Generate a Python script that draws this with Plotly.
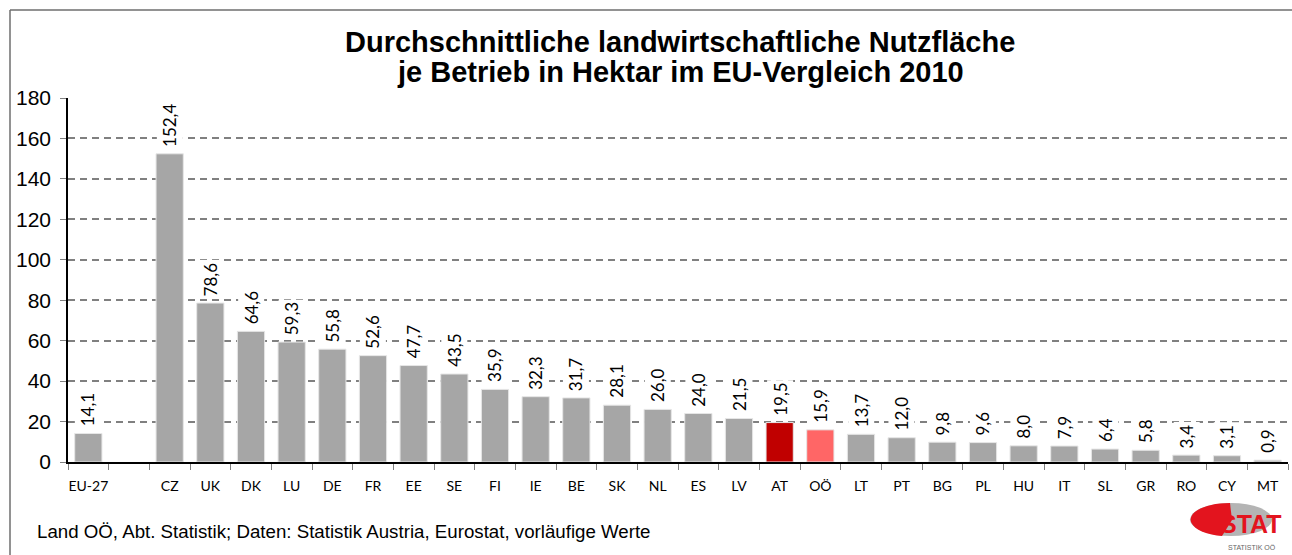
import plotly.graph_objects as go

categories = ["EU-27", " ", "CZ", "UK", "DK", "LU", "DE", "FR", "EE", "SE", "FI", "IE", "BE",
              "SK", "NL", "ES", "LV", "AT", "OÖ", "LT", "PT", "BG", "PL", "HU", "IT", "SL",
              "GR", "RO", "CY", "MT"]
values = [14.1, None, 152.4, 78.6, 64.6, 59.3, 55.8, 52.6, 47.7, 43.5, 35.9, 32.3, 31.7,
          28.1, 26.0, 24.0, 21.5, 19.5, 15.9, 13.7, 12.0, 9.8, 9.6, 8.0, 7.9, 6.4,
          5.8, 3.4, 3.1, 0.9]
highlight = {"AT": "#c00000", "OÖ": "#ff6666"}
y_ticks = [0, 20, 40, 60, 80, 100, 120, 140, 160, 180]

colors = [highlight.get(c, "#a6a6a6") for c in categories]

W, H = 1292, 555
ML, MR, MT, MB = 68, 4, 98, 93
PW, PH = W - ML - MR, H - MT - MB


def px(xp):
    return (xp - ML) / PW


def py(yp):
    return (H - yp - MB) / PH


fig = go.Figure()
fig.add_trace(go.Bar(
    x=categories, y=values,
    marker=dict(color=colors, line=dict(color="#e6e6e6", width=1)),
    hoverinfo="x+y",
))

annotations = []
for c, v in zip(categories, values):
    if v is None:
        continue
    annotations.append(dict(
        x=c, y=v, xref="x", yref="y",
        text=f"{v:.1f}".replace(".", ","),
        textangle=-90, showarrow=False,
        xanchor="center", yanchor="bottom", yshift=4,
        bgcolor="white", borderpad=2,
        font=dict(family="Lato", size=17, color="black"),
    ))

title_font = dict(family="Liberation Sans, Arial", size=29, color="black")
annotations.append(dict(
    xref="paper", yref="paper", x=px(680), y=py(42),
    text="<b>Durchschnittliche landwirtschaftliche Nutzfläche</b>",
    showarrow=False, xanchor="center", yanchor="middle", font=title_font,
))
annotations.append(dict(
    xref="paper", yref="paper", x=px(680), y=py(72),
    text="<b>je Betrieb in Hektar im EU-Vergleich 2010</b>",
    showarrow=False, xanchor="center", yanchor="middle", font=title_font,
))
annotations.append(dict(
    xref="paper", yref="paper", x=px(35), y=py(531),
    text="Land OÖ, Abt. Statistik; Daten: Statistik Austria, Eurostat, vorläufige Werte",
    showarrow=False, xanchor="left", yanchor="middle",
    font=dict(family="Liberation Sans, Arial", size=18.7, color="black"),
))
# logo text
annotations.append(dict(
    xref="paper", yref="paper", x=px(1251), y=py(524),
    text="<b>STAT</b>", showarrow=False, xanchor="center", yanchor="middle",
    font=dict(family="Liberation Sans, Arial", size=25, color="#e3141e"),
))
annotations.append(dict(
    xref="paper", yref="paper", x=px(1252), y=py(547),
    text="STATISTIK OÖ", showarrow=False, xanchor="center", yanchor="middle",
    font=dict(family="Liberation Sans, Arial", size=7, color="#666666"),
))

shapes = [
    # outer frame (top and left)
    dict(type="line", xref="paper", yref="paper", x0=px(10), x1=px(1292), y0=py(10), y1=py(10),
         line=dict(color="#6e6e6e", width=1.5)),
    dict(type="line", xref="paper", yref="paper", x0=px(10), x1=px(10), y0=py(10), y1=py(556),
         line=dict(color="#6e6e6e", width=1.5)),
    # logo ellipse
    dict(type="circle", xref="paper", yref="paper", x0=px(1190), x1=px(1272), y0=py(536), y1=py(503),
         fillcolor="#b4b4b4", line=dict(width=0), layer="below"),
    dict(type="path", xref="paper", yref="paper",
         path=f"M {px(1232)},{py(520)} L {px(1230)},{py(503)} "
              f"C {px(1205)},{py(503)} {px(1188)},{py(512)} {px(1191)},{py(522)} "
              f"C {px(1194)},{py(530)} {px(1208)},{py(535)} {px(1222)},{py(536)} Z",
         fillcolor="#e3141e", line=dict(width=0), layer="below"),
]

fig.update_layout(
    width=W, height=H,
    margin=dict(l=ML, r=MR, t=MT, b=MB),
    paper_bgcolor="white", plot_bgcolor="white",
    bargap=0.33, showlegend=False,
    annotations=annotations, shapes=shapes,
    xaxis=dict(
        type="category", categoryorder="array", categoryarray=categories,
        automargin=False, tickangle=0,
        showline=True, linecolor="black", linewidth=1.5,
        ticks="outside", tickson="boundaries", ticklen=6, tickcolor="#808080",
        ticklabelstandoff=10,
        showgrid=False,
        tickfont=dict(family="Lato", size=14, color="black"),
    ),
    yaxis=dict(
        range=[0, 180], tickvals=y_ticks, automargin=False,
        showline=True, linecolor="black", linewidth=1.5,
        ticks="outside", ticklen=6, tickcolor="#808080",
        ticklabelstandoff=5,
        showgrid=True, gridcolor="#808080", gridwidth=2, griddash="7px,5px",
        zeroline=False,
        tickfont=dict(family="Liberation Sans, Arial", size=21, color="black"),
    ),
)

fig.write_html("out.html", config={"displayModeBar": False},
               post_script="document.body.style.margin='0';document.body.style.overflow='hidden';")
